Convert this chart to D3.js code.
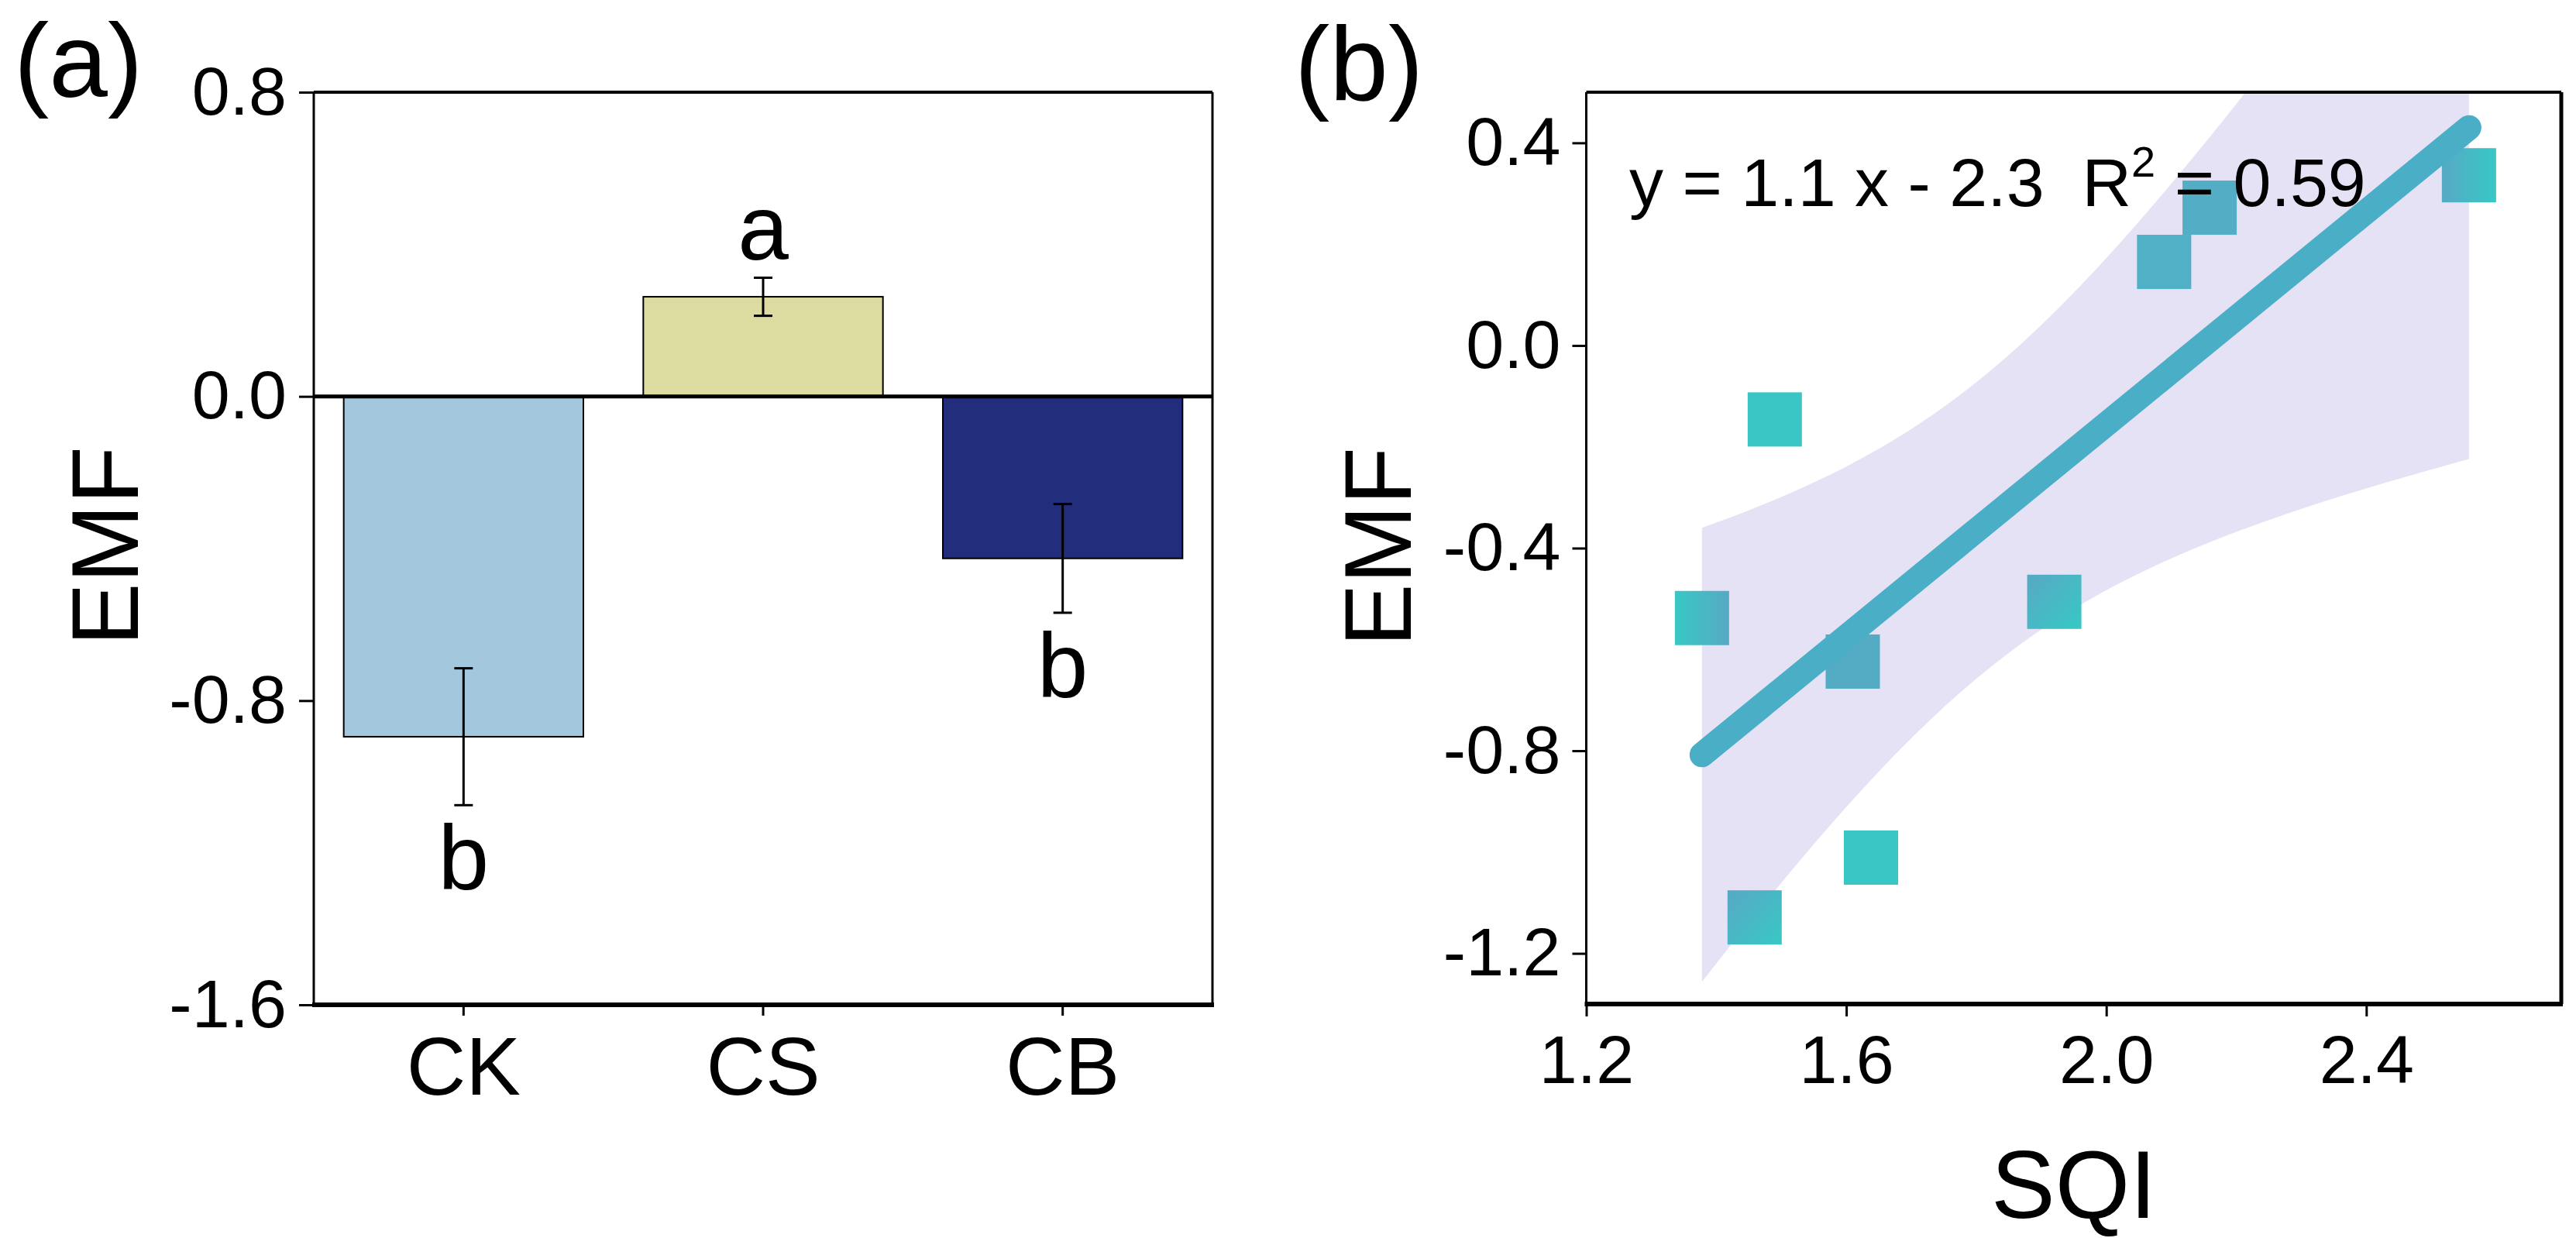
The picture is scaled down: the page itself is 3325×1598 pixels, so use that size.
<!DOCTYPE html>
<html>
<head>
<meta charset="utf-8">
<script src="https://cdn.jsdelivr.net/npm/d3@7"></script>
<style>
body { margin: 0; background: #fff; }
text { font-family: "Liberation Sans", Arial, sans-serif; fill: #000; }
</style>
</head>
<body>
<div id="chart"></div>
<script>
// ---- panel (a): bar chart ----
var groups = ['CK', 'CS', 'CB'];
var emfMean = [-0.895, 0.262, -0.426];
var emfErr = [0.180, 0.050, 0.143];
var sigLetters = ['b', 'a', 'b'];
var barTicks = [-1.6, -0.8, 0.0, 0.8];

// ---- panel (b): EMF vs SQI ----
var sqi = [1.490, 1.378, 1.610, 1.459, 1.638, 2.089, 2.159, 2.558, 1.920];
var emf = [-0.146, -0.538, -0.624, -1.129, -1.011, 0.165, 0.272, 0.336, -0.506];
var sqiTicks = [1.2, 1.6, 2.0, 2.4];
var emfTicks = [-1.2, -0.8, -0.4, 0.0, 0.4];
var eqText = 'y = 1.1 x - 2.3  R';
var r2Text = ' = 0.59';

var barColors = ['#a3c8de', '#dddca0', '#222e7c'];
// fill of each square marker (the source has a two-tone sheen on some of them)
var pointFills = ['#3ac6c4', 'url(#gTB)', '#53acc4', 'url(#gBTd)', '#3ac6c4',
                  '#50b0c6', '#52adc5', 'url(#gBT)', 'url(#gBTd)'];
var tCrit = 2.365; // t(0.975, n-2 = 7)

var W = 3325, H = 1598;
var fmt = function(d){ return d.toFixed(1); };

var svg = d3.select('#chart').append('svg')
    .attr('width', W)
    .attr('height', H);

var defs = svg.append('defs');
function gradient(id, c0, c1, x2, y2){
    var g = defs.append('linearGradient').attr('id', id)
        .attr('x1', 0).attr('y1', 0).attr('x2', x2).attr('y2', y2);
    g.append('stop').attr('offset', '0%').attr('stop-color', c0);
    g.append('stop').attr('offset', '100%').attr('stop-color', c1);
}
gradient('gTB', '#38c8c4', '#57a9c4', 1, 0);
gradient('gBT', '#57a9c4', '#38c8c4', 1, 0);
gradient('gBTd', '#57a9c4', '#38c8c4', 1, 1);

function frame(g, x0, x1, y0, y1, w){
    g.append('line').attr('x1', x0).attr('x2', x1).attr('y1', y0).attr('y2', y0)
        .attr('stroke', '#000').attr('stroke-width', w[0]);
    g.append('line').attr('x1', x1).attr('x2', x1).attr('y1', y0).attr('y2', y1)
        .attr('stroke', '#000').attr('stroke-width', w[1]);
    g.append('line').attr('x1', x0 - 2).attr('x2', x1 + 2).attr('y1', y1).attr('y2', y1)
        .attr('stroke', '#000').attr('stroke-width', w[2]);
    g.append('line').attr('x1', x0).attr('x2', x0).attr('y1', y0).attr('y2', y1)
        .attr('stroke', '#000').attr('stroke-width', w[3]);
}

function styleAxis(ax, size){
    ax.select('.domain').remove();
    ax.selectAll('.tick line').attr('stroke', '#000').attr('stroke-width', 3);
    ax.selectAll('.tick text')
        .attr('font-family', '"Liberation Sans", Arial, sans-serif')
        .attr('font-size', size)
        .attr('fill', '#000');
}

// =========== panel (a) ===========
var aL = 405, aR = 1565, aT = 119, aB = 1297;
var xA = d3.scaleBand().domain(groups).range([aL, aR]).paddingInner(0.2).paddingOuter(0.1);
var yA = d3.scaleLinear().domain([-1.6, 0.8]).range([aB, aT]);
var ga = svg.append('g');

ga.selectAll('rect.bar')
    .data(groups)
    .enter().append('rect')
    .attr('class', 'bar')
    .attr('x', d => xA(d))
    .attr('width', xA.bandwidth())
    .attr('y', (d, i) => yA(Math.max(0, emfMean[i])))
    .attr('height', (d, i) => Math.abs(yA(emfMean[i]) - yA(0)))
    .attr('fill', (d, i) => barColors[i])
    .attr('stroke', '#000')
    .attr('stroke-width', 2);

// zero line
ga.append('line')
    .attr('x1', aL).attr('x2', aR)
    .attr('y1', yA(0)).attr('y2', yA(0))
    .attr('stroke', '#000').attr('stroke-width', 5);

// error bars
groups.forEach(function(d, i){
    var cx = xA(d) + xA.bandwidth() / 2;
    var top = yA(emfMean[i] + emfErr[i]), bot = yA(emfMean[i] - emfErr[i]);
    ga.append('line').attr('x1', cx).attr('x2', cx).attr('y1', top).attr('y2', bot)
        .attr('stroke', '#000').attr('stroke-width', 3);
    [top, bot].forEach(function(yy){
        ga.append('line').attr('x1', cx - 12).attr('x2', cx + 12).attr('y1', yy).attr('y2', yy)
            .attr('stroke', '#000').attr('stroke-width', 3);
    });
    var above = emfMean[i] >= 0;
    ga.append('text')
        .attr('x', cx)
        .attr('y', above ? top - 24 : bot + 24 + 85)
        .attr('text-anchor', 'middle')
        .attr('font-size', 118)
        .text(sigLetters[i]);
});

var axA = ga.append('g').attr('transform', `translate(${aL},0)`)
    .call(d3.axisLeft(yA).tickValues(barTicks).tickSize(19).tickPadding(16).tickFormat(fmt));
styleAxis(axA, 88);

var axAx = ga.append('g').attr('transform', `translate(0,${aB})`)
    .call(d3.axisBottom(xA).tickSize(14).tickPadding(27));
styleAxis(axAx, 106);

frame(ga, aL, aR, aT, aB, [4, 3, 6, 3]);

ga.append('text')
    .attr('transform', 'translate(178,705) rotate(-90)')
    .attr('text-anchor', 'middle')
    .attr('font-size', 122)
    .text('EMF');

ga.append('text')
    .attr('x', 18).attr('y', 125)
    .attr('font-size', 136)
    .text('(a)');

// =========== panel (b) ===========
var bL = 2047.5, bR = 3306, bT = 119, bB = 1296;
var xB = d3.scaleLinear().domain([1.2, 2.7]).range([bL, bR]);
var yB = d3.scaleLinear().domain([-1.3, 0.5]).range([bB, bT]);
var gb = svg.append('g');

defs.append('clipPath').attr('id', 'clipB')
    .append('rect').attr('x', bL).attr('y', bT).attr('width', bR - bL).attr('height', bB - bT);

// least-squares fit and 95% confidence band
var pts = sqi.map((x, i) => ({x: x, y: emf[i]}));
var n = pts.length;
var mx = d3.mean(sqi), my = d3.mean(emf);
var sxx = d3.sum(sqi, x => (x - mx) * (x - mx));
var sxy = d3.sum(pts, p => (p.x - mx) * (p.y - my));
var slope = sxy / sxx, icpt = my - slope * mx;
var sse = d3.sum(pts, p => Math.pow(p.y - (icpt + slope * p.x), 2));
var s = Math.sqrt(sse / (n - 2));
var xMin = d3.min(sqi), xMax = d3.max(sqi);
var bandPts = d3.range(0, 61).map(function(k){
    var x = xMin + (xMax - xMin) * k / 60;
    var yh = icpt + slope * x;
    var half = tCrit * s * Math.sqrt(1 / n + (x - mx) * (x - mx) / sxx);
    return {x: x, lo: yh - half, hi: yh + half};
});

gb.append('path')
    .datum(bandPts)
    .attr('clip-path', 'url(#clipB)')
    .attr('fill', '#e4e2f4')
    .attr('d', d3.area().x(d => xB(d.x)).y0(d => yB(d.lo)).y1(d => yB(d.hi)));

gb.selectAll('rect.pt')
    .data(pts)
    .enter().append('rect')
    .attr('class', 'pt')
    .attr('x', d => xB(d.x) - 35)
    .attr('y', d => yB(d.y) - 35)
    .attr('width', 70)
    .attr('height', 70)
    .attr('fill', (d, i) => pointFills[i]);

gb.append('path')
    .datum([xMin, xMax])
    .attr('fill', 'none')
    .attr('stroke', '#4aaec6')
    .attr('stroke-width', 32)
    .attr('stroke-linecap', 'round')
    .attr('d', d3.line().x(d => xB(d)).y(d => yB(icpt + slope * d)));

var eq = gb.append('text')
    .attr('x', 2103).attr('y', 266)
    .attr('font-size', 88)
    .attr('xml:space', 'preserve')
    .style('white-space', 'pre');
eq.append('tspan').text(eqText);
eq.append('tspan').attr('font-size', 56).attr('dy', -38).text('2');
eq.append('tspan').attr('dy', 38).text(r2Text);

var axB = gb.append('g').attr('transform', `translate(${bL},0)`)
    .call(d3.axisLeft(yB).tickValues(emfTicks).tickSize(18).tickPadding(15).tickFormat(fmt));
styleAxis(axB, 88);

var axBx = gb.append('g').attr('transform', `translate(0,${bB})`)
    .call(d3.axisBottom(xB).tickValues(sqiTicks).tickSize(16).tickPadding(24).tickFormat(fmt));
styleAxis(axBx, 88);

frame(gb, bL, bR, bT, bB, [4, 5, 6, 3]);

gb.append('text')
    .attr('transform', 'translate(1821,706) rotate(-90)')
    .attr('text-anchor', 'middle')
    .attr('font-size', 122)
    .text('EMF');

gb.append('text')
    .attr('x', (bL + bR) / 2).attr('y', 1572)
    .attr('text-anchor', 'middle')
    .attr('font-size', 124)
    .text('SQI');

gb.append('text')
    .attr('x', 1671).attr('y', 129)
    .attr('font-size', 136)
    .text('(b)');
</script>
</body>
</html>
